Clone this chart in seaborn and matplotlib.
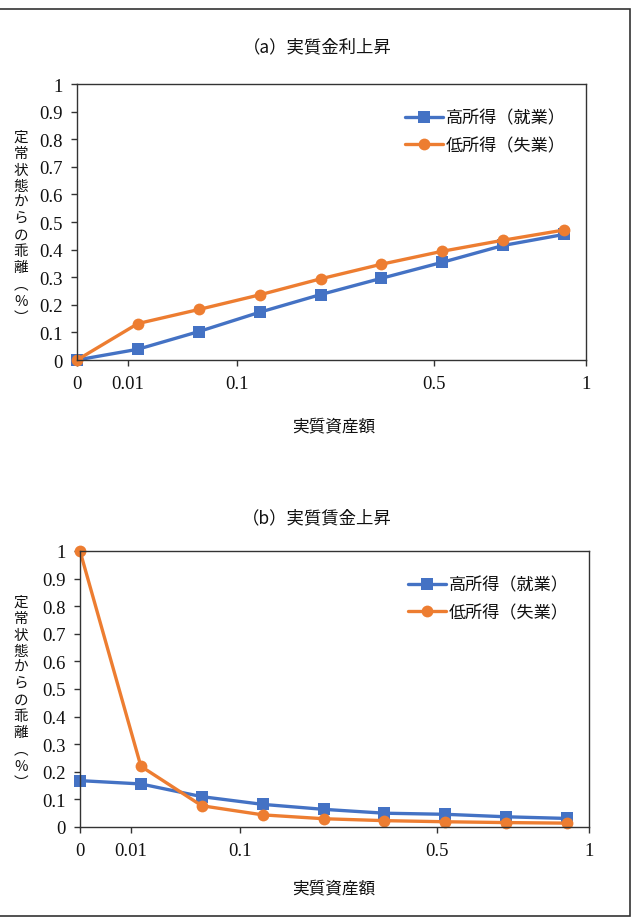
import matplotlib

matplotlib.use("Agg")
import matplotlib.pyplot as plt
import seaborn as sns
import pandas as pd
from matplotlib.patches import Rectangle

# ===================== データ =====================
asset_idx = list(range(9))  # 実質資産額のグリッド点（等間隔表示）
tick_labels = ["0", "0.01", "0.1", "0.5", "1"]

high_label = "高所得（就業）"
low_label = "低所得（失業）"

# (a) 実質金利上昇
a_high = [0.0, 0.039, 0.103, 0.173, 0.237, 0.296, 0.354, 0.415, 0.455]
a_low = [0.0, 0.132, 0.183, 0.236, 0.294, 0.347, 0.394, 0.434, 0.471]

# (b) 実質賃金上昇
b_high = [0.168, 0.156, 0.110, 0.082, 0.064, 0.050, 0.046, 0.037, 0.031]
b_low = [1.0, 0.220, 0.077, 0.044, 0.030, 0.023, 0.019, 0.016, 0.014]

panels = [
    ("（a）実質金利上昇", a_high, a_low),
    ("（b）実質賃金上昇", b_high, b_low),
]

BLUE = "#4472C4"
ORANGE = "#ED7D31"
TXT = "#111111"

sns.set_theme(style="white")
plt.rcParams["font.family"] = ["Noto Sans CJK JP", "DejaVu Sans"]

W, H = 633, 920
fig = plt.figure(figsize=(W / 100, H / 100), dpi=100)

# 各パネルの軸位置（ピクセル）
boxes = [(77, 586, 85, 361), (80, 589, 552, 828)]
xmax = 8.36
tick_pos = [0, 0.84, 2.62, 5.86, xmax]


def px(x0, x1, y0, y1):
    return [x0 / W, 1 - y1 / H, (x1 - x0) / W, (y1 - y0) / H]


ylabel_chars = list("定常状態からの乖離") + ["︵", "%", "︶"]
ylabel_y = [138, 154, 171, 187, 203, 219, 236, 252, 268, 285, 302, 318]

for k, (title, high, low) in enumerate(panels):
    x0, x1, y0, y1 = boxes[k]
    ax = fig.add_axes(px(x0, x1, y0, y1))
    df = pd.DataFrame({
        "x": asset_idx * 2,
        "y": high + low,
        "series": [high_label] * 9 + [low_label] * 9,
    })
    sns.lineplot(data=df, x="x", y="y", hue="series", style="series",
                 palette=[BLUE, ORANGE], markers=["s", "o"], dashes=False,
                 linewidth=2.4, markersize=8.5, markeredgewidth=0,
                 ax=ax, clip_on=False)
    ax.set_xlim(0, xmax)
    ax.set_ylim(0, 1)
    ax.set_xticks(tick_pos)
    ax.set_xticklabels(tick_labels)
    ax.set_yticks([i / 10 for i in range(11)])
    ax.set_yticklabels(["0"] + [f"{i / 10:.1f}" for i in range(1, 10)] + ["1"])
    for lab in ax.get_xticklabels() + ax.get_yticklabels():
        lab.set_family("Liberation Serif")
        lab.set_fontsize(13.5)
        lab.set_color(TXT)
    ax.tick_params(axis="both", direction="out", length=4, width=1,
                   color="#333333", left=True, bottom=True)
    ax.tick_params(axis="y", pad=6)
    ax.tick_params(axis="x", pad=7)
    for sp in ax.spines.values():
        sp.set_color("#333333")
        sp.set_linewidth(1.0)
    ax.set_xlabel("")
    ax.set_ylabel("")

    handles, labels = ax.get_legend_handles_labels()
    leg = ax.legend(handles, labels, loc="upper left", frameon=False,
                    bbox_to_anchor=(0.645, 0.91), fontsize=12.3,
                    handlelength=2.2, handletextpad=0.15, labelspacing=0.55,
                    borderaxespad=0, borderpad=0)
    for t in leg.get_texts():
        t.set_color(TXT)

    # タイトル・軸ラベル
    off = y0 - boxes[0][2]
    fig.text(317 / W, 1 - (47 + off + (4 if k else 0)) / H, title,
             ha="center", va="center", fontsize=12.5, color=TXT)
    fig.text(334 / W, 1 - (427 + off - (5 if k else 0)) / H, "実質資産額",
             ha="center", va="center", fontsize=12, color=TXT)
    for ch, yy in zip(ylabel_chars, ylabel_y):
        fig.text(21 / W, 1 - (yy + off - (2 if k else 0)) / H, ch,
                 ha="center", va="center", fontsize=10.5, color=TXT)

# 外枠
fig.patches.append(Rectangle((-0.01, 1 - 917 / H), 630 / W + 0.01, 907 / H,
                             transform=fig.transFigure, fill=False,
                             edgecolor="#333333", linewidth=1.2))

fig.savefig("out.png", dpi=100)
